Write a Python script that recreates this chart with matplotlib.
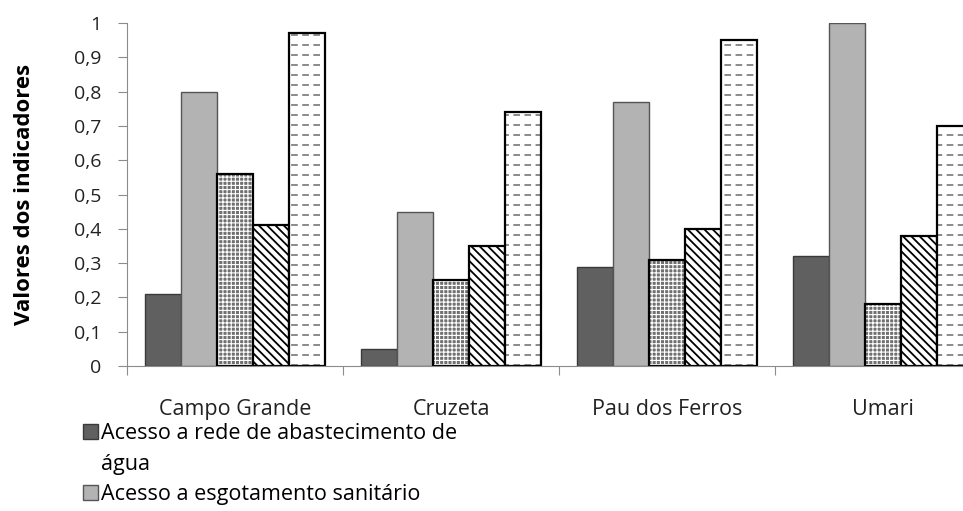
import warnings
import matplotlib
matplotlib.use("Agg")
import matplotlib.pyplot as plt
from matplotlib import hatch as mhatch
from matplotlib.path import Path
from matplotlib.patches import Rectangle

warnings.filterwarnings("ignore", message="hatch must consist")

municipios = ["Campo Grande", "Cruzeta", "Pau dos Ferros", "Umari"]
agua = [0.21, 0.05, 0.29, 0.32]
esgoto = [0.80, 0.45, 0.77, 1.00]
serie3 = [0.56, 0.25, 0.31, 0.18]
serie4 = [0.41, 0.35, 0.40, 0.38]
serie5 = [0.97, 0.74, 0.95, 0.70]
yticks = [0, 0.1, 0.2, 0.3, 0.4, 0.5, 0.6, 0.7, 0.8, 0.9, 1]


# '_' hatch: rows of short horizontal dashes
class DashedRows(mhatch.HatchPatternBase):
    def __init__(self, hatch, density):
        n = hatch.count('_')
        self.rows = n * 10
        self.cols = 9
        self.num_vertices = self.rows * self.cols * 2

    def set_vertices_and_codes(self, vertices, codes):
        dy = 1.0 / self.rows
        dx = 1.0 / self.cols
        k = 0
        for r in range(self.rows):
            y = (r + 0.5) * dy
            for c in range(self.cols):
                x0 = c * dx + 0.25 * dx
                vertices[k] = (x0, y)
                vertices[k + 1] = (x0 + 0.5 * dx, y)
                codes[k] = Path.MOVETO
                codes[k + 1] = Path.LINETO
                k += 2


mhatch._hatch_types.append(DashedRows)

plt.rcParams['font.family'] = ['Open Sans', 'DejaVu Sans']


def hatched(ax, xs, ys, w, face, hatch, hlw):
    plt.rcParams['hatch.linewidth'] = hlw
    bars = ax.bar(xs, ys, w, color=face, edgecolor=hatch[1], hatch=hatch[0], linewidth=0)
    for b in bars:
        if hasattr(b, "set_hatch_linewidth"):
            b.set_hatch_linewidth(hlw)
    ax.bar(xs, ys, w, fill=False, edgecolor="black", linewidth=1.6)


fig = plt.figure(figsize=(9.63, 5.11), dpi=100)
ax = fig.add_axes([127 / 963, 145 / 511, 864 / 963, 343 / 511])

w = 1 / 6
x = list(range(len(municipios)))

def pos(i):
    return [xi + (i - 2) * w for xi in x]

b1 = ax.bar(pos(0), agua, w, color="#606060", edgecolor="#3a3a3a", linewidth=1)
b2 = ax.bar(pos(1), esgoto, w, color="#b3b3b3", edgecolor="#555555", linewidth=1)
hatched(ax, pos(2), serie3, w, "#707070", ("++++", "white"), 0.8)
hatched(ax, pos(3), serie4, w, "white", ("\\" * 4, "black"), 1.3)
hatched(ax, pos(4), serie5, w, "white", ("_", "#333333"), 0.8)

ax.set_xlim(-0.5, len(municipios) - 0.5)
ax.set_ylim(0, 1)
ax.set_yticks(yticks)
ax.set_yticklabels([f"{t:g}".replace(".", ",") for t in yticks])

ax.set_xticks([i - 0.5 for i in range(len(municipios) + 1)])
ax.set_xticklabels([])
ax.set_xticks(x, minor=True)
ax.set_xticklabels(municipios, minor=True)

for side in ["top", "right"]:
    ax.spines[side].set_visible(False)
for side in ["left", "bottom"]:
    ax.spines[side].set_color("#8c8c8c")

ax.tick_params(axis="y", length=6.5, color="#8c8c8c", pad=12, labelsize=14, labelcolor="#222222")
ax.tick_params(axis="x", which="major", length=6.5, color="#8c8c8c")
ax.tick_params(axis="x", which="minor", length=0, pad=24, labelsize=15.5, labelcolor="#222222")

ax.set_ylabel("Valores dos indicadores", fontsize=16, fontweight="bold", labelpad=28)

blank = Rectangle((0, 0), 1, 1, fill=False, edgecolor="none")
fig.legend([b1, blank, b2],
           ["Acesso a rede de abastecimento de", "água", "Acesso a esgotamento sanitário"],
           loc="upper left", bbox_to_anchor=(83 / 963, 1 - 423 / 511),
           frameon=False, fontsize=15.5, handlelength=0.7, handleheight=0.7,
           handletextpad=0.12, labelspacing=0.45, borderpad=0, borderaxespad=0)

fig.savefig("out.png", dpi=100)
